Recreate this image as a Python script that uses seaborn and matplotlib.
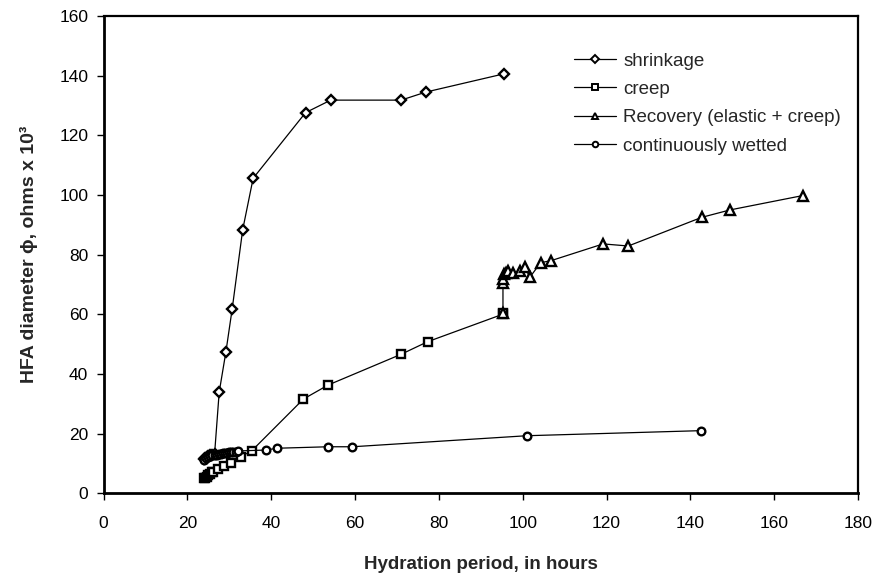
import matplotlib
matplotlib.use("Agg")
import matplotlib.pyplot as plt
import seaborn as sns
import numpy as np

# ---- data ----
shrink_x = [24.0, 24.3, 24.6, 25.0, 25.5, 26.0, 26.5, 27.6, 29.2, 30.7, 33.2, 35.7, 48.2, 54.2, 71.0, 76.9, 95.5]
shrink_y = [11.5, 12.0, 12.3, 12.6, 12.8, 13.0, 13.2, 33.9, 47.4, 61.8, 88.3, 105.6, 127.6, 131.8, 131.8, 134.5, 140.6]

creep_x = [24.0, 24.3, 24.6, 25.0, 25.4, 25.8, 26.2, 27.2, 28.8, 30.3, 32.8, 35.4, 47.7, 53.6, 71.0, 77.3, 95.2, 95.4]
creep_y = [5.0, 5.2, 5.5, 6.0, 6.5, 7.0, 7.3, 8.0, 9.2, 10.3, 12.3, 14.3, 31.6, 36.3, 46.6, 50.8, 60.0, 60.6]

recov_x = [95.3, 95.3, 95.4, 95.6, 96.0, 96.5, 97.8, 99.4, 100.5, 101.7, 104.3, 106.8, 119.2, 125.2, 142.7, 149.5, 166.8]
recov_y = [60.5, 70.4, 72.0, 73.5, 74.0, 74.5, 73.8, 74.6, 76.0, 72.4, 77.3, 78.0, 83.6, 82.9, 92.5, 95.0, 99.8]

wet_x = [24.0, 24.5, 25.0, 25.5, 26.0, 26.5, 27.0, 27.5, 28.0, 28.5, 29.0, 29.5, 30.0, 30.5, 31.0, 31.5, 32.0, 38.8, 41.3, 53.6, 59.4, 101.0, 142.5]
wet_y = [11.2, 11.8, 12.2, 12.5, 12.7, 12.9, 13.0, 13.2, 13.3, 13.4, 13.5, 13.6, 13.7, 13.8, 13.9, 14.0, 14.2, 14.5, 15.1, 15.6, 15.6, 19.3, 21.0]

labels = ["shrinkage", "creep", "Recovery (elastic + creep)", "continuously wetted"]
x_ticks = list(range(0, 181, 20))
y_ticks = list(range(0, 161, 20))

# ---- style ----
sns.set_theme(style="white")
plt.rcParams["font.family"] = ["Liberation Sans", "DejaVu Sans"]

fig = plt.figure(figsize=(8.75, 5.83), dpi=100)
ax = fig.add_axes([103.5 / 875, 1 - 493.3 / 583, (858 - 103.5) / 875, (493.3 - 16) / 583])

series = [
    (shrink_x, shrink_y, "D", 5.5),
    (creep_x, creep_y, "s", 5.5),
    (recov_x, recov_y, "^", 6.5),
    (wet_x, wet_y, "o", 5.5),
]
for (xs, ys, mk, ms), lab in zip(series, labels):
    sns.lineplot(x=xs, y=ys, ax=ax, color="black", marker=mk, markersize=ms,
                 markerfacecolor="white", markeredgecolor="black", markeredgewidth=1.7,
                 linewidth=0.9, sort=False, estimator=None, label=lab)

ax.set_xlim(0, 180)
ax.set_ylim(0, 160)
ax.set_xticks(x_ticks)
ax.set_yticks(y_ticks)
ax.tick_params(axis="both", which="major", direction="out", length=5, width=1,
               color="black", labelsize=12.5, labelcolor="black", left=True, bottom=True, pad=6)
ax.tick_params(axis="x", pad=11)

for side in ["left", "bottom"]:
    ax.spines[side].set_linewidth(2.0)
for side in ["top", "right"]:
    ax.spines[side].set_linewidth(1.6)
for s in ax.spines.values():
    s.set_color("black")
    s.set_visible(True)

ax.set_xlabel("Hydration period, in hours", fontsize=13.5, fontweight="bold", labelpad=18)
ax.set_ylabel("HFA diameter \u03d5, ohms x 10\u00b3", fontsize=14, fontweight="bold", labelpad=15)

leg = ax.legend(loc="upper left", bbox_to_anchor=(565 / 875, 1 - 43 / 583),
                bbox_transform=fig.transFigure, frameon=False, fontsize=13.5,
                handlelength=2.2, handletextpad=0.4, labelspacing=0.6, borderpad=0)
for h in leg.legend_handles:
    h.set_markersize(4)
    h.set_markeredgewidth(1.4)

fig.savefig("out.png", dpi=100)
